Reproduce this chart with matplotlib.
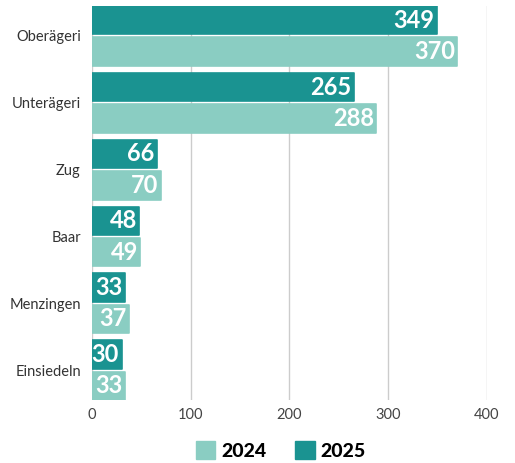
import numpy as np
import matplotlib
matplotlib.use("Agg")
import matplotlib.pyplot as plt
from matplotlib.patches import Patch

plt.rcParams['font.family'] = ['Lato', 'DejaVu Sans']

# Data
places = ['Oberägeri', 'Unterägeri', 'Zug', 'Baar', 'Menzingen', 'Einsiedeln']
v2024 = [370, 288, 70, 49, 37, 33]
v2025 = [349, 265, 66, 48, 33, 30]

c2024 = '#8acdc2'
c2025 = '#1a9391'

fig = plt.figure(figsize=(5.15, 4.63), dpi=100)
ax = fig.add_axes([0.1786, 0.136, 0.767, 0.851])

y = np.arange(len(places))
h = 0.425
off = 0.235

b25 = ax.barh(y - off, v2025, height=h, color=c2025, edgecolor=c2025,
              linewidth=1.2, zorder=3)
b24 = ax.barh(y + off, v2024, height=h, color=c2024, edgecolor=c2024,
              linewidth=1.2, zorder=3)
for b in list(b25) + list(b24):
    b.set_joinstyle('round')

for bars, vals in [(b25, v2025), (b24, v2024)]:
    for b, v in zip(bars, vals):
        ax.text(v - 2.5, b.get_y() + b.get_height() / 2, str(v), ha='right',
                va='center', color='white', fontsize=17, fontweight='bold',
                zorder=4)

ax.set_xlim(0, 400)
ax.set_ylim(5.4475, -0.4475)
ax.set_yticks(y)
ax.set_yticklabels(places, fontsize=10.5, color='#333333')
ax.set_xticks([0, 100, 200, 300, 400])
ax.tick_params(axis='x', labelsize=10.5, labelcolor='#444444', length=0, pad=6)
ax.tick_params(axis='y', length=0, pad=8)
ax.grid(axis='x', color='#cccccc', linewidth=1, zorder=0)
for s in ax.spines.values():
    s.set_visible(False)

handles = [Patch(color=c2024, label='2024'), Patch(color=c2025, label='2025')]
fig.legend(handles=handles, loc='center', bbox_to_anchor=(0.545, 0.027), ncol=2,
           frameon=False, handlelength=1.0, handleheight=1.0, handletextpad=0.3,
           columnspacing=1.5, prop={'weight': 'black', 'size': 14})

fig.savefig('out.png', dpi=100)
